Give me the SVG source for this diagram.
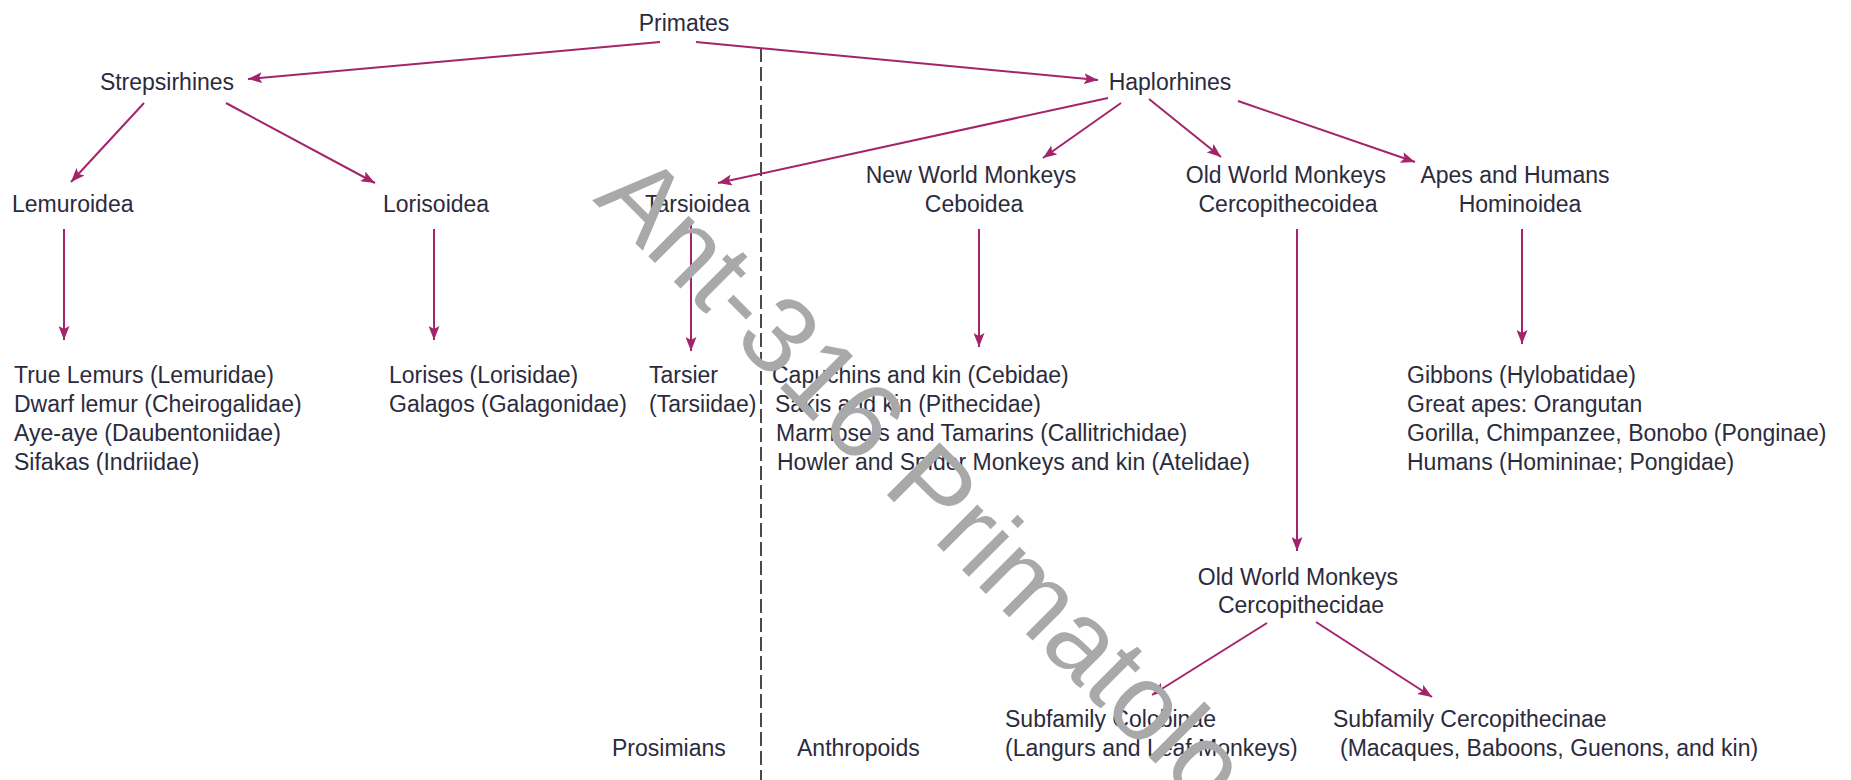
<svg xmlns="http://www.w3.org/2000/svg" width="1851" height="780" viewBox="0 0 1851 780">
<defs>
<style>
.t{font-family:"Liberation Sans",Arial,sans-serif;font-size:23px;fill:#2b2b3d}
.m{text-anchor:middle}
.e{stroke:#a3246a;stroke-width:2;fill:none;marker-end:url(#ah)}
.dash{stroke:#4a4a4a;stroke-width:2;stroke-dasharray:14 5;fill:none}
.wm{font-family:"Liberation Sans",Arial,sans-serif;font-size:108px;fill:#a9a9a9}
</style>
<marker id="ah" markerUnits="userSpaceOnUse" markerWidth="15" markerHeight="11" refX="14" refY="5.5" orient="auto">
<path d="M0,0 L14,5.5 L0,11 L3,5.5 z" fill="#a3246a"/>
</marker>
</defs>
<rect width="1851" height="780" fill="#ffffff"/>
<g id="connectors">
<line class="dash" x1="761" y1="48" x2="761" y2="780"/>
<line class="e" x1="660" y1="42" x2="248" y2="79"/>
<line class="e" x1="696" y1="42" x2="1098" y2="80"/>
<line class="e" x1="144" y1="103" x2="71" y2="182"/>
<line class="e" x1="226" y1="103" x2="375" y2="183"/>
<line class="e" x1="1108" y1="98" x2="718" y2="183"/>
<line class="e" x1="1121" y1="103" x2="1043" y2="158"/>
<line class="e" x1="1149" y1="99" x2="1221" y2="157"/>
<line class="e" x1="1238" y1="101" x2="1415" y2="162"/>
<line class="e" x1="64" y1="229" x2="64" y2="340"/>
<line class="e" x1="434" y1="229" x2="434" y2="340"/>
<line class="e" x1="691" y1="225" x2="691" y2="351"/>
<line class="e" x1="979" y1="229" x2="979" y2="347"/>
<line class="e" x1="1297" y1="229" x2="1297" y2="551"/>
<line class="e" x1="1522" y1="229" x2="1522" y2="344"/>
<line class="e" x1="1267" y1="623" x2="1152" y2="695"/>
<line class="e" x1="1316" y1="622" x2="1432" y2="697"/>
</g>
<g id="primates"><text class="t m" x="684" y="31">Primates</text></g>
<g id="strepsirhines"><text class="t m" x="167" y="90">Strepsirhines</text></g>
<g id="haplorhines"><text class="t m" x="1170" y="90">Haplorhines</text></g>
<g id="lemuroidea"><text class="t" x="12" y="212">Lemuroidea</text></g>
<g id="lorisoidea"><text class="t" x="383" y="212">Lorisoidea</text></g>
<g id="tarsioidea"><text class="t" x="645" y="212">Tarsioidea</text></g>
<g id="ceboidea"><text class="t m" x="971" y="183">New World Monkeys</text><text class="t m" x="974" y="212">Ceboidea</text></g>
<g id="cercopithecoidea"><text class="t m" x="1286" y="183">Old World Monkeys</text><text class="t m" x="1288" y="212">Cercopithecoidea</text></g>
<g id="hominoidea"><text class="t m" x="1515" y="183">Apes and Humans</text><text class="t m" x="1520" y="212">Hominoidea</text></g>
<g id="lemurs">
<text class="t" x="14" y="383">True Lemurs (Lemuridae)</text>
<text class="t" x="14" y="412">Dwarf lemur (Cheirogalidae)</text>
<text class="t" x="14" y="441">Aye-aye (Daubentoniidae)</text>
<text class="t" x="14" y="470">Sifakas (Indriidae)</text>
</g>
<g id="lorises">
<text class="t" x="389" y="383">Lorises (Lorisidae)</text>
<text class="t" x="389" y="412">Galagos (Galagonidae)</text>
</g>
<g id="tarsier">
<text class="t" x="649" y="383">Tarsier</text>
<text class="t" x="649" y="412">(Tarsiidae)</text>
</g>
<g id="newworld">
<text class="t" x="772" y="383">Capuchins and kin (Cebidae)</text>
<text class="t" x="775" y="412">Sakis and kin (Pithecidae)</text>
<text class="t" x="776" y="441">Marmosets and Tamarins (Callitrichidae)</text>
<text class="t" x="777" y="470">Howler and Spider Monkeys and kin (Atelidae)</text>
</g>
<g id="apes">
<text class="t" x="1407" y="383">Gibbons (Hylobatidae)</text>
<text class="t" x="1407" y="412">Great apes: Orangutan</text>
<text class="t" x="1407" y="441">Gorilla, Chimpanzee, Bonobo (Ponginae)</text>
<text class="t" x="1407" y="470">Humans (Homininae; Pongidae)</text>
</g>
<g id="cercopithecidae"><text class="t m" x="1298" y="585">Old World Monkeys</text><text class="t m" x="1301" y="613">Cercopithecidae</text></g>
<g id="colobinae"><text class="t" x="1005" y="727">Subfamily Colobinae</text><text class="t" x="1005" y="756">(Langurs and Leaf Monkeys)</text></g>
<g id="cercopithecinae"><text class="t" x="1333" y="727">Subfamily Cercopithecinae</text><text class="t" x="1340" y="756">(Macaques, Baboons, Guenons, and kin)</text></g>
<g id="prosimians"><text class="t" x="612" y="756">Prosimians</text></g>
<g id="anthropoids"><text class="t" x="797" y="756">Anthropoids</text></g>
<text class="wm" x="592" y="200" transform="rotate(45 592 200)">Ant-316 Primatology</text>
</svg>
